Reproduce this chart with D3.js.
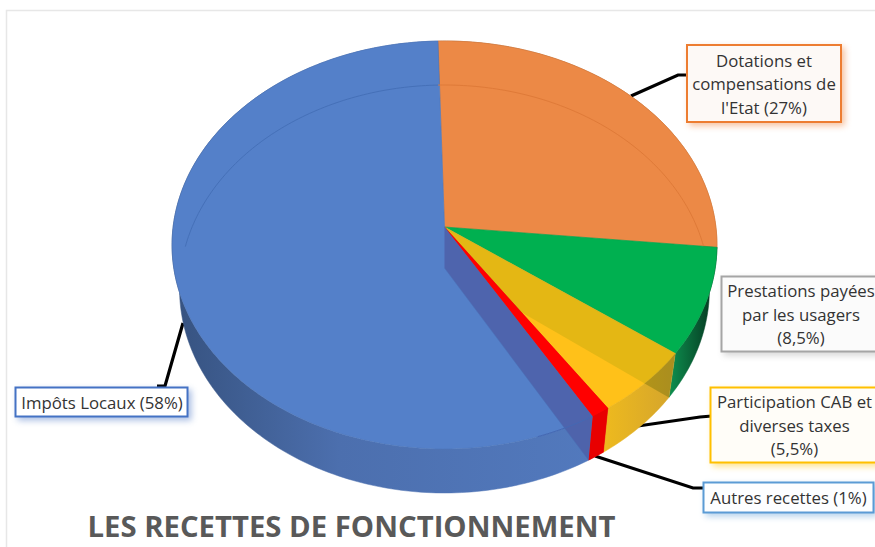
<!DOCTYPE html>
<html><head><meta charset="utf-8">
<script src="https://cdn.jsdelivr.net/npm/d3@7/dist/d3.min.js"></script>
<style>html,body{margin:0;padding:0;background:#fff;overflow:hidden}svg{display:block}</style>
</head><body><svg id="c" width="875" height="547"></svg>
<script>
const categories = ["Dotations et compensations de l'Etat","Prestations payées par les usagers","Participation CAB et diverses taxes","Autres recettes","Impôts Locaux"];
const values = [27, 8.5, 5.5, 1, 58];
const topColors = ["#EC8946","#00B050","#FFC119","#FF0000","#5480C9"];
const sideFrom = ["#c96f30","#0d8a4c","#D6A62B","#E80000","#5279bd"];
const sideTo = ["#a55a25","#04301c","#EEBA1E","#E00000","#36527f"];
const labelLines = [["Dotations et","compensations de","l'Etat (27%)"],["Prestations payées","par les usagers","(8,5%)"],["Participation CAB et","diverses taxes","(5,5%)"],["Autres recettes (1%)"],["Impôts Locaux (58%)"]];
const borderColors = ["#ED7D31","#A5A5A5","#FFC000","#5B9BD5","#4472C4"];
const titleText = "LES RECETTES DE FONCTIONNEMENT";

const svg = d3.select("#c");
const defs = svg.append("defs");
const k = -0.0882;
const rad = d => d * Math.PI / 180;
const proj = (cx, cy, a, b) => t => {
  const u = Math.sin(t), v = -Math.cos(t), w = 1 + k * v;
  return [cx + a * u / w, cy + b * v / w];
};
const P = proj(444.5, 227, 271.4, 202.4);
const Q = proj(444.5, 271, 263.9, 202.4);
const T = [444.5, 227], T2 = [444.5, 268];

const arcs = d3.pie().sort(null).startAngle(rad(-1.5)).endAngle(rad(358.5))(values);
const samples = (a, b) => { const n = Math.max(2, Math.ceil((b - a) / rad(1))); return d3.range(n + 1).map(i => a + (b - a) * i / n); };
const line = d3.line();
const topPts = d => [T, ...samples(d.startAngle, d.endAngle).map(P)];
const sidePts = d => { const s = samples(d.startAngle, d.endAngle); return [...s.map(P), ...s.slice().reverse().map(Q)]; };

svg.append("path").attr("d", "M6.5,547V10.5H875").attr("fill", "none").attr("stroke", "#e7e7e7").attr("stroke-width", 1.5);

arcs.forEach((d, i) => {
  const g = defs.append("linearGradient").attr("id", "s" + i).attr("gradientUnits", "userSpaceOnUse");
  const xs = samples(d.startAngle, d.endAngle).map(t => Q(t)[0]);
  let x1 = d3.max(xs), x2 = d3.min(xs);
  if (i === 4) { x1 = 590; x2 = 172; }
  if (i === 1) { x1 = 672; x2 = 717; }
  g.attr("x1", x1).attr("x2", x2).attr("y1", 0).attr("y2", 0);
  g.append("stop").attr("offset", 0).attr("stop-color", sideFrom[i]);
  if (i === 4) g.append("stop").attr("offset", .6).attr("stop-color", "#4c6fae");
  g.append("stop").attr("offset", 1).attr("stop-color", sideTo[i]);
});

const leaders = [
  [[631,96],[678,75],[690,75]],
  [[638,426],[700,417],[712,416]],
  [[595,456],[693,488],[705,488]],
  [[183,323],[165,386],[157,386]]
];
svg.selectAll(".leader").data(leaders).join("path").attr("class", "leader")
  .attr("d", d => line(d)).attr("fill", "none").attr("stroke", "#000").attr("stroke-width", 3.2);

svg.selectAll(".side").data(arcs).join("path").attr("class", "side")
  .attr("d", d => line(sidePts(d)) + "Z").attr("fill", (d, i) => `url(#s${i})`)
  .attr("stroke", (d, i) => `url(#s${i})`).attr("stroke-width", .5);

svg.selectAll(".top").data(arcs).join("path").attr("class", "top")
  .attr("d", d => line(topPts(d)) + "Z").attr("fill", (d, i) => topColors[i])
  .attr("stroke", (d, i) => d3.color(topColors[i]).darker(.25)).attr("stroke-width", .6);

const rimT = arcs.filter((d, i) => i === 0 || i === 4);
svg.selectAll(".rim").data(rimT).join("path").attr("class", "rim")
  .attr("d", (d, i) => i === 0
     ? line(samples(d.startAngle, d.endAngle).map(Q).filter(p => p[1] < 247))
     : line(samples(rad(277), d.endAngle).map(Q)))
  .attr("fill", "none").attr("stroke", (d, i) => i === 0 ? "#df7a38" : "#4570b8").attr("stroke-width", 1);

const yellow = arcs[2], green = arcs[1], red = arcs[3], blue = arcs[4];
const clip = defs.append("clipPath").attr("id", "yc");
clip.append("path").attr("d", line(topPts(yellow)) + "Z");
const clipSide = defs.append("clipPath").attr("id", "ys");
clipSide.append("path").attr("d", line(sidePts(yellow)) + "Z");
const greenWall = line([T, T2, Q(green.endAngle), P(green.endAngle)]) + "Z";
svg.append("path").attr("clip-path", "url(#yc)").attr("d", greenWall)
  .attr("fill", "#588500").attr("fill-opacity", .16);
svg.append("path").attr("clip-path", "url(#ys)").attr("d", greenWall)
  .attr("fill", "#4a5a00").attr("fill-opacity", .3);

svg.append("path").attr("d", line([T, T2, Q(blue.startAngle), P(blue.startAngle)]) + "Z")
  .attr("fill", "#4E5FA8").attr("fill-opacity", .85);
svg.append("path").attr("d", line([T2, Q(blue.startAngle)])).attr("stroke", "#4a6fb5").attr("stroke-width", .5).attr("fill", "none");
// front edge of the top face stays visible across the strip
svg.append("path").attr("d", line(samples(blue.startAngle, blue.startAngle + rad(12)).map(P)))
  .attr("fill", "none").attr("stroke", "#4468b4").attr("stroke-width", 1);
svg.append("path").attr("d", line(topPts(red)) + "Z").attr("fill", "#FF0000");
svg.append("path").attr("d", line(sidePts(red)) + "Z").attr("fill", "#E80000");

const boxes = [
  {x:687,y:45,w:154,h:77,cx:764,ys:[61,84.5,108],fill:"#fdf9f6"},
  {x:721.5,y:276.5,w:170,h:75,cx:801,ys:[291.5,315,338.5],fill:"#fbfbfb"},
  {x:710.5,y:387.5,w:180,h:75,cx:794.5,ys:[402.5,426,449.5],fill:"#fffdf8"},
  {x:703.5,y:482.5,w:170,h:30,cx:788.5,ys:[498],fill:"#fdfeff"},
  {x:15.5,y:387.5,w:172,h:29,cx:102,ys:[403],fill:"#ffffff"}
];
const lab = svg.selectAll(".lab").data(boxes).join("g").attr("class", "lab");
lab.append("rect").attr("x", d => d.x).attr("y", d => d.y).attr("width", d => d.w).attr("height", d => d.h)
  .attr("fill", d => d.fill).attr("stroke", (d, i) => borderColors[i]).attr("stroke-width", 2)
  .style("filter", (d, i) => `drop-shadow(3px 3px 3px ${d3.color(borderColors[i]).copy({opacity:.45})})`);
lab.each(function(d, i) {
  d3.select(this).selectAll("text").data(labelLines[i]).join("text")
    .attr("x", d.cx).attr("y", (s, j) => d.ys[j]).attr("dy", "0.35em").attr("text-anchor", "middle")
    .attr("font-family", "'Open Sans',sans-serif").attr("font-size", 16.8).attr("fill", "#333").text(s => s);
});

svg.append("text").attr("x", 351.5).attr("y", 526).attr("dy", "0.36em").attr("text-anchor", "middle")
  .attr("font-family", "'Open Sans',sans-serif").attr("font-weight", 700).attr("font-size", 29.3).attr("fill", "#595959").text(titleText);
</script></body></html>
